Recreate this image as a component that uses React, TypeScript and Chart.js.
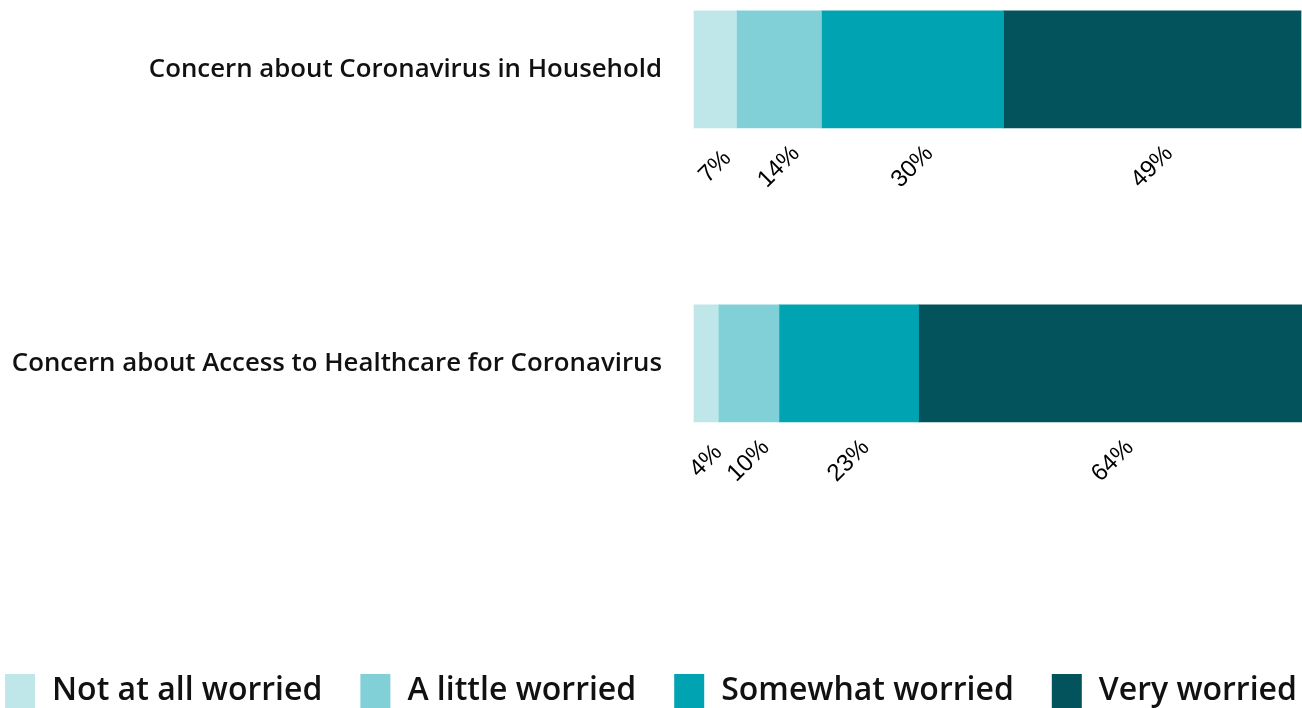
import React, { useEffect, useRef } from "react";
import { Chart, registerables } from "chart.js";

Chart.register(...registerables);

const categories = [
  "Concern about Coronavirus in Household",
  "Concern about Access to Healthcare for Coronavirus",
];
const seriesNames = ["Not at all worried", "A little worried", "Somewhat worried", "Very worried"];
const notAtAllWorried = [7, 4];
const aLittleWorried = [14, 10];
const somewhatWorried = [30, 23];
const veryWorried = [49, 64];
const seriesColors = ["#BFE7EA", "#82D0D7", "#00A3B1", "#02535B"];

const W = 1302;
const H = 708;

const valueLabelPlugin = {
  id: "valueLabels",
  afterDatasetsDraw(chart: any) {
    const ctx = chart.ctx;
    ctx.save();
    ctx.font = '24px "Liberation Sans", Arial, sans-serif';
    ctx.fillStyle = "#000";
    ctx.textAlign = "center";
    ctx.textBaseline = "middle";
    chart.data.datasets.forEach((ds: any, i: number) => {
      const meta = chart.getDatasetMeta(i);
      meta.data.forEach((el: any, j: number) => {
        const p = el.getProps(["x", "base", "y"], true);
        const cx = (p.x + p.base) / 2;
        const cy = p.y + 97.5;
        const v = ds.data[j].x;
        ctx.save();
        ctx.translate(cx, cy);
        ctx.rotate(-Math.PI / 4);
        ctx.fillText(`${v}%`, 0, 0);
        ctx.restore();
      });
    });
    ctx.restore();
  },
};

const customLegendPlugin = {
  id: "customLegend",
  afterDraw(chart: any) {
    const ctx = chart.ctx;
    const font = '600 32px "Open Sans", sans-serif';
    const boxW = 30;
    const boxH = 36;
    const boxText = 17;
    const gap = 38;
    ctx.save();
    ctx.font = font;
    const items = chart.data.datasets.map((ds: any) => ({
      text: ds.label,
      color: ds.backgroundColor,
      w: ctx.measureText(ds.label).width,
    }));
    const total =
      items.reduce((s: number, it: any) => s + boxW + boxText + it.w, 0) + gap * (items.length - 1);
    let x = chart.width / 2 - total / 2;
    const top = chart.chartArea.bottom + 16.5;
    const mid = top + 17;
    ctx.textAlign = "left";
    ctx.textBaseline = "middle";
    items.forEach((it: any) => {
      ctx.fillStyle = it.color;
      ctx.fillRect(x, top, boxW, boxH);
      ctx.fillStyle = "#111";
      ctx.fillText(it.text, x + boxW + boxText, mid);
      x += boxW + boxText + it.w + gap;
    });
    ctx.restore();
  },
};

export default function App() {
  const ref = useRef<HTMLCanvasElement | null>(null);

  useEffect(() => {
    if (!ref.current) return;
    const series = [notAtAllWorried, aLittleWorried, somewhatWorried, veryWorried];
    const chart = new Chart(ref.current, {
      type: "bar",
      data: {
        datasets: series.map((vals, k) => ({
          label: seriesNames[k],
          data: vals.map((v, i) => ({ x: v, y: i })),
          backgroundColor: seriesColors[k],
          borderWidth: 0,
          barThickness: 117,
          clip: false,
        })),
      },
      options: {
        indexAxis: "y",
        animation: false,
        responsive: false,
        devicePixelRatio: 1,
        layout: { padding: { top: 0, bottom: 50.5, right: 1, left: 0 } },
        plugins: {
          legend: { display: false },
          tooltip: { enabled: false },
          title: { display: false },
        },
        scales: {
          x: {
            type: "linear",
            stacked: true,
            min: 0,
            max: 100,
            display: false,
          },
          y: {
            type: "linear",
            stacked: true,
            reverse: true,
            offset: false,
            min: -0.0745,
            max: 2.0,
            grid: { display: false, drawTicks: false },
            border: { display: false },
            afterBuildTicks: (scale: any) => {
              scale.ticks = categories.map((_, i) => ({ value: i }));
            },
            afterFit: (scale: any) => {
              scale.width = 694;
            },
            ticks: {
              padding: 32,
              color: "#111",
              font: { family: '"Open Sans", sans-serif', size: 25.8, weight: "600", lineHeight: 1.2 },
              callback: (v: any) => categories[v] ?? "",
            },
          },
        },
      } as any,
      plugins: [valueLabelPlugin, customLegendPlugin],
    });
    return () => chart.destroy();
  }, []);

  return (
    <div style={{ position: "absolute", left: 0, top: 0, width: W, height: H, overflow: "hidden", background: "#fff" }}>
      <canvas ref={ref} width={W} height={H} style={{ width: W, height: H, display: "block" }} />
    </div>
  );
}
